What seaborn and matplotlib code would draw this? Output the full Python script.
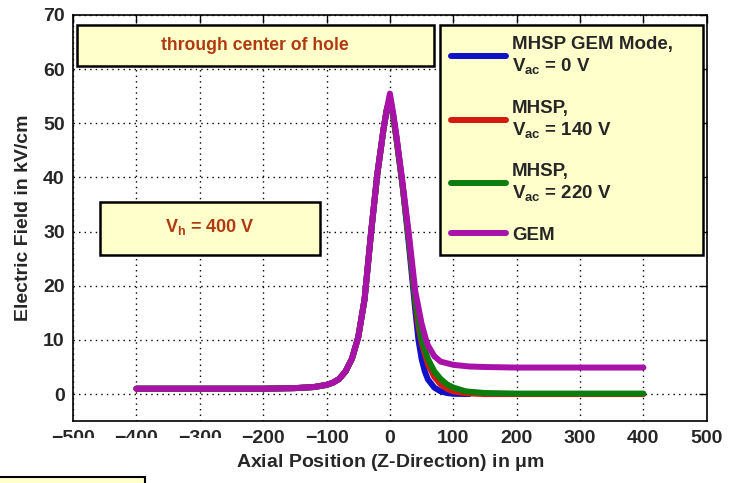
import matplotlib
matplotlib.use("Agg")
import matplotlib.pyplot as plt
from matplotlib.patches import Rectangle
import numpy as np
import pandas as pd
import seaborn as sns

# ---- data (z in um, E in kV/cm) ----
z_left = [-400, -300, -200, -150, -120, -100, -90, -80, -70, -60, -50, -40, -30, -20, -10, -5]
e_left = [1.0, 1.0, 1.0, 1.1, 1.3, 1.7, 2.1, 2.8, 4.2, 6.5, 10.5, 17.5, 29.5, 40.5, 49.0, 52.5]

z_blue = [0, 5, 10, 20, 30, 40, 45, 50, 55, 60, 70, 80, 90, 100, 125]
e_blue = [54.5, 51.5, 47.5, 38.5, 27.5, 15.5, 10.0, 6.5, 4.2, 2.7, 1.2, 0.5, 0.2, 0.05, 0.0]

z_red = [0, 5, 10, 20, 30, 40, 45, 50, 60, 70, 80, 90, 100, 120, 150, 200, 400]
e_red = [54.5, 51.5, 47.5, 38.5, 28.5, 17.0, 12.5, 9.5, 5.5, 3.2, 1.8, 1.0, 0.5, 0.15, 0.0, 0.0, 0.0]

z_green = [0, 5, 10, 20, 30, 40, 50, 60, 70, 80, 90, 100, 120, 150, 200, 400]
e_green = [54.5, 51.5, 47.5, 38.5, 28.5, 17.5, 10.0, 6.5, 4.2, 2.8, 1.8, 1.2, 0.5, 0.2, 0.1, 0.1]

z_gem = [0, 5, 10, 20, 30, 40, 50, 57, 60, 70, 80, 100, 125, 150, 200, 400]
e_gem = [55.5, 52.0, 48.0, 39.0, 29.5, 19.0, 13.0, 10.0, 9.0, 7.0, 6.0, 5.4, 5.1, 5.0, 4.9, 4.9]

labels = [
    "MHSP GEM Mode,\n$V_{ac}$ = 0 V",
    "MHSP,\n$V_{ac}$ = 140 V",
    "MHSP,\n$V_{ac}$ = 220 V",
    "GEM",
]
colors = ["#1010C8", "#D41A10", "#0C7C0C", "#A812A8"]

tails = [(z_blue, e_blue), (z_red, e_red), (z_green, e_green), (z_gem, e_gem)]
frames = []
for name, (zt, et) in zip(labels, tails):
    frames.append(pd.DataFrame({
        "z": z_left + zt,
        "E": e_left + et,
        "series": name,
    }))
df = pd.concat(frames, ignore_index=True)

# ---- style ----
sns.set_style("white")
font = ["Liberation Sans Narrow", "Liberation Sans", "DejaVu Sans"]
plt.rcParams["font.family"] = font
plt.rcParams["font.weight"] = "bold"
plt.rcParams["mathtext.fontset"] = "custom"
plt.rcParams["mathtext.rm"] = "Liberation Sans:bold"
plt.rcParams["mathtext.it"] = "Liberation Sans:bold"
plt.rcParams["mathtext.bf"] = "Liberation Sans:bold"

fig = plt.figure(figsize=(7.31, 4.83), dpi=100)
ax = fig.add_axes([0.0999, 0.128, 0.867, 0.841])

sns.lineplot(data=df, x="z", y="E", hue="series", palette=colors,
             estimator=None, sort=False, linewidth=4.3, legend=False, ax=ax)

ax.set_xlim(-500, 500)
ax.set_ylim(-5, 70)
ax.set_xticks(np.arange(-500, 501, 100))
ax.set_yticks(np.arange(0, 71, 10))
ax.grid(True, linestyle=(0, (1, 3)), color="k", linewidth=1.0)
ax.tick_params(direction="in", length=6, width=1, top=True, right=True,
               labelsize=14, pad=6, color="k")
for s in ax.spines.values():
    s.set_color("k")
    s.set_linewidth(1.2)

ax.set_xlabel("Axial Position (Z-Direction) in $\\mu$m", fontsize=14,
              fontweight="bold", labelpad=4)
ax.set_ylabel("Electric Field in kV/cm", fontsize=14, fontweight="bold", labelpad=8)

# ---- annotation boxes ----
box_fc = "#FFFFCC"
txt_col = "#B03A10"
ax.add_patch(Rectangle((0.006, 0.874), 0.563, 0.101, transform=ax.transAxes,
                       facecolor=box_fc, edgecolor="k", linewidth=1.8, zorder=5))
ax.text(0.287, 0.925, "through center of hole", transform=ax.transAxes,
        ha="center", va="center", color=txt_col, fontsize=12.7, fontweight="bold", zorder=6)
ax.add_patch(Rectangle((0.0426, 0.409), 0.347, 0.130, transform=ax.transAxes,
                       facecolor=box_fc, edgecolor="k", linewidth=1.8, zorder=5))
ax.text(0.216, 0.478, "$V_h$ = 400 V", transform=ax.transAxes,
        ha="center", va="center", color=txt_col, fontsize=13, fontweight="bold", zorder=6)

leg = ax.legend(ax.get_lines()[:4], labels, loc="upper left",
                bbox_to_anchor=(0.579, 0.0, 0.415, 0.975), mode="expand",
                borderaxespad=0, fontsize=13.5, handlelength=2.9,
                handletextpad=0.35, labelspacing=1.25, borderpad=0.6,
                fancybox=False, framealpha=1, facecolor=box_fc, edgecolor="k")
leg.get_frame().set_linewidth(1.8)
leg.set_zorder(7)

# white patch cutting the lower tick labels, and the stray box at bottom left
fig.patches.append(Rectangle((0, 32 / 483), 223 / 731, 13 / 483, transform=fig.transFigure,
                             facecolor="white", edgecolor="none", zorder=10))
fig.patches.append(Rectangle((-0.01, -0.01), 145 / 731 + 0.01, 6 / 483 + 0.01,
                             transform=fig.transFigure, facecolor=box_fc,
                             edgecolor="k", linewidth=1.5, zorder=10))

fig.savefig("out.png", dpi=100)
